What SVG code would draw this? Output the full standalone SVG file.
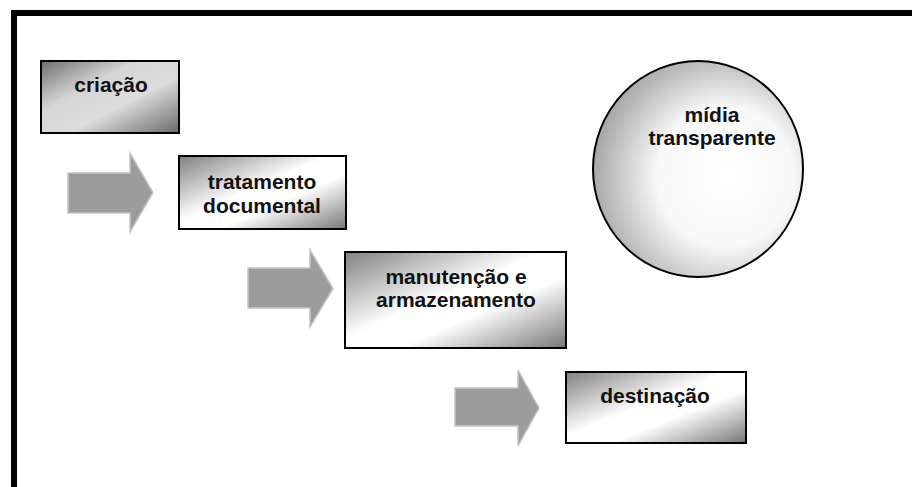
<svg xmlns="http://www.w3.org/2000/svg" width="912" height="487" viewBox="0 0 912 487">
  <style>
    .box { stroke: #000; stroke-width: 2; }
    .lbl { font-family: "Liberation Sans", Arial, sans-serif; font-weight: bold; font-size: 21px; fill: #111; text-anchor: middle; }
    .arrow { fill: #9c9c9c; stroke: #c4c4c4; stroke-width: 1.5; stroke-linejoin: miter; }
  </style>
  <defs>
    <linearGradient id="gBox1" x1="0" y1="0" x2="1" y2="1">
      <stop offset="0" stop-color="#6e6e6e"/>
      <stop offset="0.35" stop-color="#d6d6d6"/>
      <stop offset="0.6" stop-color="#dcdcdc"/>
      <stop offset="1" stop-color="#6a6a6a"/>
    </linearGradient>
    <linearGradient id="gBox" x1="0" y1="0" x2="1" y2="1">
      <stop offset="0" stop-color="#808080"/>
      <stop offset="0.45" stop-color="#ffffff"/>
      <stop offset="0.62" stop-color="#ffffff"/>
      <stop offset="1" stop-color="#777777"/>
    </linearGradient>
    <radialGradient id="gCircle" cx="0.62" cy="0.55" r="0.65" fx="0.64" fy="0.52">
      <stop offset="0" stop-color="#ffffff"/>
      <stop offset="0.5" stop-color="#f8f8f8"/>
      <stop offset="1" stop-color="#a0a0a0"/>
    </radialGradient>
  </defs>

  <rect x="0" y="0" width="912" height="487" fill="#ffffff"/>
  <rect id="frame" x="14" y="13" width="1000" height="1000" fill="none" stroke="#000" stroke-width="6"/>

  <g id="connectors">
    <polygon class="arrow" points="68,173 130,173 130,153 153,192.5 130,232 130,213 68,213"/>
    <polygon class="arrow" points="248,268 310,268 310,250 333,288.5 310,327 310,308 248,308"/>
    <polygon class="arrow" points="455,388 518,388 518,370 539,408 518,446 518,426 455,426"/>
  </g>

  <g id="node-criacao">
    <rect class="box" x="41" y="61" width="138" height="72" fill="url(#gBox1)"/>
    <text class="lbl" x="111" y="92">criação</text>
  </g>

  <g id="node-tratamento">
    <rect class="box" x="179" y="156" width="167" height="73" fill="url(#gBox)"/>
    <text class="lbl" x="262" y="189">tratamento</text>
    <text class="lbl" x="262" y="213">documental</text>
  </g>

  <g id="node-manutencao">
    <rect class="box" x="345" y="252" width="221" height="96" fill="url(#gBox)"/>
    <text class="lbl" x="456" y="284">manutenção e</text>
    <text class="lbl" x="456" y="307">armazenamento</text>
  </g>

  <g id="node-destinacao">
    <rect class="box" x="566" y="372" width="180" height="71" fill="url(#gBox)"/>
    <text class="lbl" x="655" y="403">destinação</text>
  </g>

  <g id="node-midia">
    <ellipse cx="698" cy="169" rx="105" ry="108" fill="url(#gCircle)" stroke="#000" stroke-width="2"/>
    <text class="lbl" x="712" y="122">mídia</text>
    <text class="lbl" x="712" y="145">transparente</text>
  </g>
</svg>
